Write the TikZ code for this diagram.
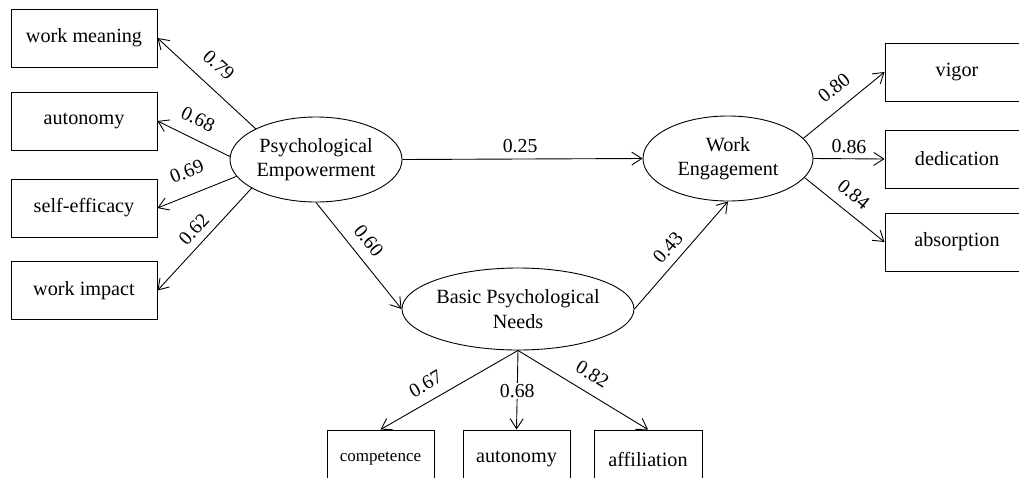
\documentclass[tikz,border=0pt]{standalone}
\usepackage{fontspec}
\setmainfont{Liberation Serif}
\usetikzlibrary{shapes.geometric,arrows.meta}
\begin{document}
\begin{tikzpicture}[x=1pt,y=-1pt,
  font=\fontsize{20.2}{24.5}\selectfont,
  line width=0.9pt,
  arr/.style={-{Straight Barb[length=10pt,width=13pt,line width=0.9pt]}},
  box/.style={draw,rectangle,inner sep=0pt,minimum width=146pt,minimum height=58pt},
  bbox/.style={draw,rectangle,inner sep=0pt,minimum width=107pt,minimum height=58pt},
  latent/.style={draw,ellipse,inner sep=0pt,align=center},
  lab/.style={sloped,inner sep=0pt,anchor=south,font=\fontsize{19.8}{24}\selectfont}
]
\useasboundingbox (0,0) rectangle (1019,477);
\clip (0,0) rectangle (1019,477);

% latent variables
\node[latent,minimum width=172pt,minimum height=85pt] (PE) at (316,159.5) {Psychological\\Empowerment};
\node[latent,minimum width=170pt,minimum height=85pt] (WE) at (728,158.5) {Work\\Engagement};
\node[latent,minimum width=232pt,minimum height=82pt] (BPN) at (518,309) {Basic Psychological\\Needs};

% left indicators
\node[box] (wm) at (84,38) {work meaning};
\node[box] (am) at (84,121) {autonomy};
\node[box] (se) at (84,208) {self-efficacy};
\node[box] (wi) at (84,290.5) {work impact};

% right indicators
\node[box,minimum width=144pt] (vi) at (957,72) {vigor};
\node[box,minimum width=144pt] (de) at (957,159) {dedication};
\node[box,minimum width=144pt] (ab) at (957,242) {absorption};

% bottom indicators
\node[bbox] (co) at (380.5,459) {\raisebox{3pt}{\fontsize{17}{20}\selectfont competence}};
\node[bbox] (au) at (516.5,459) {autonomy};
\node[bbox,minimum width=108pt] (af) at (648,459) {affiliation};

% loadings of Psychological Empowerment
\draw[arr] (PE.153) -- node[lab,pos=0.525,yshift=14.5pt] {0.79} (wm.east);
\draw[arr] (PE.178) -- node[lab,pos=0.56,yshift=12.5pt] {0.68} (am.east);
\draw[arr] (PE.192) -- node[lab,pos=0.52,yshift=16pt] {0.69} (se.east);
\draw[arr] (PE.204) -- node[lab,pos=0.5,yshift=7.5pt] {0.62} (wi.east);

% structural paths
\draw[arr] (PE.east) -- node[lab,pos=0.49,yshift=6pt] {0.25} (WE.west);
\draw[arr] (PE.south) -- node[lab,pos=0.46,yshift=10pt] {0.60} (BPN.west);
\draw[arr] (BPN.east) -- node[lab,pos=0.48,yshift=8pt] {0.43} (WE.south);

% loadings of Work Engagement
\draw[arr] (WE.15) -- node[lab,pos=0.53,yshift=12.5pt] {0.80} (vi.west);
\draw[arr] (WE.east) -- node[lab,pos=0.5,yshift=5pt] {0.86} (de.west);
\draw[arr] (WE.346) -- node[lab,pos=0.475,yshift=10.5pt] {0.84} (ab.west);

% loadings of Basic Psychological Needs
\draw[arr] (BPN.south) -- node[lab,pos=0.61,yshift=10pt] {0.67} (co.north);
\draw[arr] (BPN.south) -- node[fill=white,inner sep=1pt,pos=0.51,font=\fontsize{19.8}{24}\selectfont] {0.68} (au.north);
\draw[arr] (BPN.south) -- node[lab,pos=0.5,yshift=11pt] {0.82} (af.north);
\end{tikzpicture}
\end{document}
